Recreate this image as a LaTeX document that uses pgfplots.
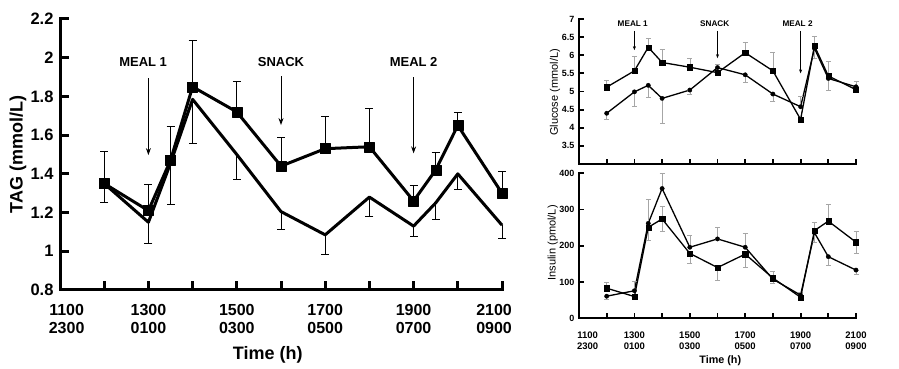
\documentclass[border=0pt]{standalone}
\usepackage{fontspec}
\setmainfont{Liberation Sans}
\usepackage{pgfplots}
\pgfplotsset{compat=1.18}
\usepackage{pgfplotstable}
\usetikzlibrary{arrows.meta}

\pgfplotstableread{
x y ep
12 1.35 0.165
13 1.21 0.135
13.5 1.47 0.175
14 1.85 0.24
15 1.72 0.155
16 1.44 0.15
17 1.53 0.165
18 1.54 0.20
19 1.26 0.08
19.5 1.42 0.09
20 1.65 0.065
21 1.30 0.11
}\tagsq

\pgfplotstableread{
x y em
12 1.35 0.10
13 1.15 0.11
13.5 1.455 0.215
14 1.785 0.23
15 1.50 0.13
16 1.205 0.095
17 1.085 0.10
18 1.28 0.10
19 1.13 0.055
19.5 1.25 0.085
20 1.40 0.08
21 1.135 0.07
}\tagci

\pgfplotstableread{
x y ep em
12 5.12 0.20 0
13 5.57 0.39 0
13.5 6.22 0.25 0
14 5.80 0.36 0
15 5.67 0.25 0
16 5.52 0.23 0
17 6.07 0.28 0
18 5.57 0.50 0
19 4.23 0 0
19.5 6.26 0.25 0
20 5.43 0.39 0
21 5.05 0.22 0
}\glusq

\pgfplotstableread{
x y ep em
12 4.40 0 0.17
13 4.99 0 0.41
13.5 5.17 0 0.33
14 4.81 0 0.69
15 5.04 0 0.11
16 5.66 0 0
17 5.46 0 0.21
18 4.93 0 0.21
19 4.58 0.28 0
19.5 6.19 0 0.27
20 5.36 0 0.32
21 5.13 0 0
}\gluci

\pgfplotstableread{
x y ep em
12 83 16 0
13 60 0 0
13.5 251 0 35
14 274 34 35
15 179 0 27
16 140 0 34
17 177 0 36
18 111 0 14
19 58 0 0
19.5 242 23 0
20 268 46 0
21 210 31 31
}\inssq

\pgfplotstableread{
x y ep em
12 61 0 8
13 76 25 0
13.5 262 66 0
14 358 42 0
15 196 34 0
16 219 31 0
17 196 38 0
18 108 21 0
19 64 9 0
19.5 236 0 27
20 170 0 25
21 133 0 11
}\insci

\begin{document}
\begin{tikzpicture}
\useasboundingbox (0,0) rectangle (899pt,369pt);
% ---------------- TAG panel ----------------
\begin{axis}[
  at={(60pt,79pt)}, anchor=south west,
  scale only axis, width=442pt, height=271pt,
  xmin=11, xmax=21, ymin=0.8, ymax=2.2,
  axis lines=left,
  axis line style={-, line width=3pt, line cap=rect},
  tick align=inside,
  major tick length=9pt,
  tick style={black, line width=3pt},
  xtick={11,...,21},
  xticklabels={{},{},{1300\\0100},{},{1500\\0300},{},{1700\\0500},{},{1900\\0700},{},{}},
  extra x ticks={11.15,20.82},
  extra x tick labels={{1100\\2300},{2100\\0900}},
  extra x tick style={major tick length=0pt},
  ytick={0.8,1,1.2,1.4,1.6,1.8,2,2.2},
  yticklabels={0.8,1,1.2,1.4,1.6,1.8,2,2.2},
  xticklabel style={align=center, font=\bfseries\fontsize{16}{18}\selectfont, yshift=-11pt},
  yticklabel style={font=\bfseries\fontsize{16.5}{18}\selectfont, xshift=-3pt},
  xlabel={Time (h)}, ylabel={TAG (mmol/L)},
  xlabel style={at={(axis description cs:0.47,-0.24)}, anchor=center, font=\bfseries\fontsize{18}{20}\selectfont},
  ylabel style={at={(axis description cs:-0.095,0.5)}, anchor=center, font=\bfseries\fontsize{18}{20}\selectfont},
  clip=false,
]
\addplot[black, line width=3pt, line join=round, no markers,
  error bars/.cd, y dir=minus, y explicit,
  error bar style={line width=1pt, black},
  error mark options={rotate=90, mark size=4pt, line width=1pt}]
  table[x=x, y=y, y error minus=em] {\tagci};
\addplot[black, line width=3pt, line join=round, mark=square*, mark size=5pt, mark options={solid, line width=0.4pt},
  error bars/.cd, y dir=plus, y explicit,
  error bar style={line width=1pt, black},
  error mark options={rotate=90, mark size=4pt, line width=1pt}]
  table[x=x, y=y, y error plus=ep] {\tagsq};
\node[font=\bfseries\fontsize{13}{15}\selectfont] at (axis cs:12.88,1.98) {MEAL 1};
\node[font=\bfseries\fontsize{13}{15}\selectfont] at (axis cs:16,1.98) {SNACK};
\node[font=\bfseries\fontsize{13}{15}\selectfont] at (axis cs:19,1.98) {MEAL 2};
\draw[-{Stealth[length=7pt,width=5pt]}, line width=0.9pt] (axis cs:13,1.893) -- (axis cs:13,1.497);
\draw[-{Stealth[length=7pt,width=5pt]}, line width=0.9pt] (axis cs:16,1.905) -- (axis cs:16,1.652);
\draw[-{Stealth[length=7pt,width=5pt]}, line width=0.9pt] (axis cs:19,1.900) -- (axis cs:19,1.506);
\end{axis}
% ---------------- Glucose panel ----------------
\begin{axis}[
  at={(579pt,205pt)}, anchor=south west,
  scale only axis, width=277pt, height=145pt,
  xmin=11, xmax=21, ymin=3, ymax=7,
  axis lines=left,
  axis line style={-, line width=2pt, line cap=rect},
  tick align=inside,
  major tick length=5pt,
  tick style={black, line width=1.8pt},
  xtick={12,...,21}, xticklabels={},
  ytick={3.5,4,4.5,5,5.5,6,6.5,7},
  yticklabels={3.5,4,4.5,5,5.5,6,6.5,7},
  yticklabel style={font=\bfseries\fontsize{9}{10}\selectfont, xshift=-1pt},
  ylabel={Glucose (mmol/L)},
  ylabel style={at={(axis description cs:-0.087,0.493)}, anchor=center, font=\fontsize{11}{13}\selectfont},
  clip=false,
]
\addplot[black, line width=1.3pt, mark=*, mark size=2.2pt, mark options={solid, line width=0.3pt},
  error bars/.cd, y dir=both, y explicit,
  error bar style={line width=0.6pt, gray!70},
  error mark options={rotate=90, mark size=2.5pt, line width=0.6pt, gray!70}]
  table[x=x, y=y, y error plus=ep, y error minus=em] {\gluci};
\addplot[black, line width=1.3pt, mark=square*, mark size=2.6pt, mark options={solid, line width=0.3pt},
  error bars/.cd, y dir=both, y explicit,
  error bar style={line width=0.6pt, gray!70},
  error mark options={rotate=90, mark size=2.5pt, line width=0.6pt, gray!70}]
  table[x=x, y=y, y error plus=ep, y error minus=em] {\glusq};
\node[font=\bfseries\fontsize{8.2}{9}\selectfont] at (axis cs:12.94,6.88) {MEAL 1};
\node[font=\bfseries\fontsize{8.2}{9}\selectfont] at (axis cs:15.9,6.88) {SNACK};
\node[font=\bfseries\fontsize{8.2}{9}\selectfont] at (axis cs:18.89,6.88) {MEAL 2};
\draw[-{Stealth[length=4pt,width=3pt]}, line width=0.5pt] (axis cs:13,6.67) -- (axis cs:13,6.14);
\draw[-{Stealth[length=4pt,width=3pt]}, line width=0.5pt] (axis cs:16,6.67) -- (axis cs:16,5.92);
\draw[-{Stealth[length=4pt,width=3pt]}, line width=0.5pt] (axis cs:19,6.67) -- (axis cs:19,5.50);
\end{axis}
% ---------------- Insulin panel ----------------
\begin{axis}[
  at={(579pt,50.7pt)}, anchor=south west,
  scale only axis, width=277pt, height=145pt,
  xmin=11, xmax=21, ymin=0, ymax=400,
  axis lines=left,
  axis line style={-, line width=2pt, line cap=rect},
  tick align=inside,
  major tick length=5pt,
  tick style={black, line width=1.8pt},
  xtick={11,...,21},
  xticklabels={{},{},{1300\\0100},{},{1500\\0300},{},{1700\\0500},{},{1900\\0700},{},{2100\\0900}},
  extra x ticks={11.31},
  extra x tick labels={{1100\\2300}},
  extra x tick style={major tick length=0pt},
  ytick={0,100,200,300,400},
  yticklabels={0,100,200,300,400},
  xticklabel style={align=center, font=\bfseries\fontsize{9.5}{11}\selectfont, yshift=-10pt},
  yticklabel style={font=\bfseries\fontsize{9}{10}\selectfont, xshift=-1pt},
  xlabel={Time (h)}, ylabel={Insulin (pmol/L)},
  xlabel style={at={(axis description cs:0.51,-0.294)}, anchor=center, font=\bfseries\fontsize{10.8}{12}\selectfont},
  ylabel style={at={(axis description cs:-0.095,0.52)}, anchor=center, font=\fontsize{11}{13}\selectfont},
  clip=false,
]
\addplot[black, line width=1.3pt, mark=*, mark size=2.2pt, mark options={solid, line width=0.3pt},
  error bars/.cd, y dir=both, y explicit,
  error bar style={line width=0.6pt, gray!70},
  error mark options={rotate=90, mark size=2.5pt, line width=0.6pt, gray!70}]
  table[x=x, y=y, y error plus=ep, y error minus=em] {\insci};
\addplot[black, line width=1.3pt, mark=square*, mark size=2.6pt, mark options={solid, line width=0.3pt},
  error bars/.cd, y dir=both, y explicit,
  error bar style={line width=0.6pt, gray!70},
  error mark options={rotate=90, mark size=2.5pt, line width=0.6pt, gray!70}]
  table[x=x, y=y, y error plus=ep, y error minus=em] {\inssq};
\end{axis}
\end{tikzpicture}
\end{document}
